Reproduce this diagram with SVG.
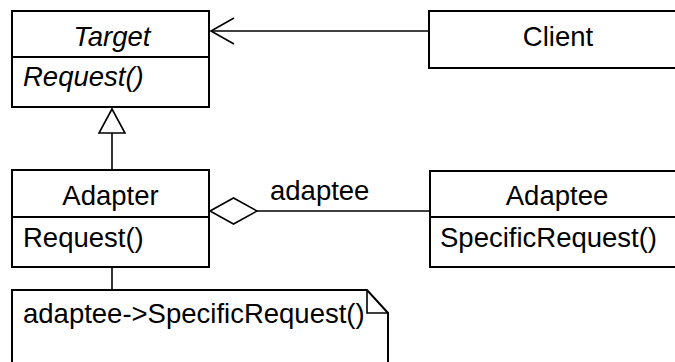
<svg xmlns="http://www.w3.org/2000/svg" width="675" height="362" viewBox="0 0 675 362">
  <style>
    .box { fill: #ffffff; stroke: #000000; stroke-width: 2; }
    .sep { stroke: #000000; stroke-width: 2; }
    .line { fill: none; stroke: #000000; stroke-width: 1.6; }
    text { font-family: "Liberation Sans", Arial, sans-serif; font-size: 27.5px; fill: #000000; }
    .name { text-anchor: middle; }
    .abstract { font-style: italic; }
  </style>
  <rect width="675" height="362" fill="#ffffff"/>

  <!-- connectors -->
  <g id="connectors">
    <!-- Client -> Target association with open arrowhead -->
    <line class="line" x1="429" y1="31" x2="211" y2="31"/>
    <polyline class="line" points="234,18 211,31 234,44"/>
    <!-- Adapter generalizes Target -->
    <line class="line" x1="112" y1="133" x2="112" y2="170"/>
    <polygon class="line" fill="#ffffff" points="112,109 99,133 125,133"/>
    <!-- Adapter aggregates Adaptee -->
    <line class="line" x1="257" y1="211" x2="430" y2="211"/>
    <polygon class="line" fill="#ffffff" points="210,211 233.5,198 257,211 233.5,224"/>
    <text x="270" y="200">adaptee</text>
    <!-- note anchor -->
    <line class="line" x1="112" y1="267" x2="112" y2="290"/>
  </g>

  <g id="target">
    <rect class="box" x="12" y="11" width="197" height="96"/>
    <line class="sep" x1="12" y1="57" x2="209" y2="57"/>
    <text class="name abstract" x="112" y="46">Target</text>
    <text class="abstract" x="23" y="86">Request()</text>
  </g>

  <g id="client">
    <rect class="box" x="429" y="11" width="258" height="57"/>
    <text class="name" x="558" y="46">Client</text>
  </g>

  <g id="adapter">
    <rect class="box" x="12" y="170" width="197" height="97"/>
    <line class="sep" x1="12" y1="217" x2="209" y2="217"/>
    <text class="name" x="110.5" y="205">Adapter</text>
    <text x="23" y="247">Request()</text>
  </g>

  <g id="adaptee">
    <rect class="box" x="430" y="171" width="255" height="96"/>
    <line class="sep" x1="430" y1="217" x2="685" y2="217"/>
    <text class="name" x="557" y="205">Adaptee</text>
    <text x="440" y="247">SpecificRequest()</text>
  </g>

  <g id="note">
    <path class="box" d="M12,372 L12,290 L367,290 L388,313 L388,372 Z"/>
    <polyline class="line" fill="none" stroke-width="2" points="367,290 367,313 388,313"/>
    <text x="23" y="323">adaptee-&gt;SpecificRequest()</text>
  </g>
</svg>
